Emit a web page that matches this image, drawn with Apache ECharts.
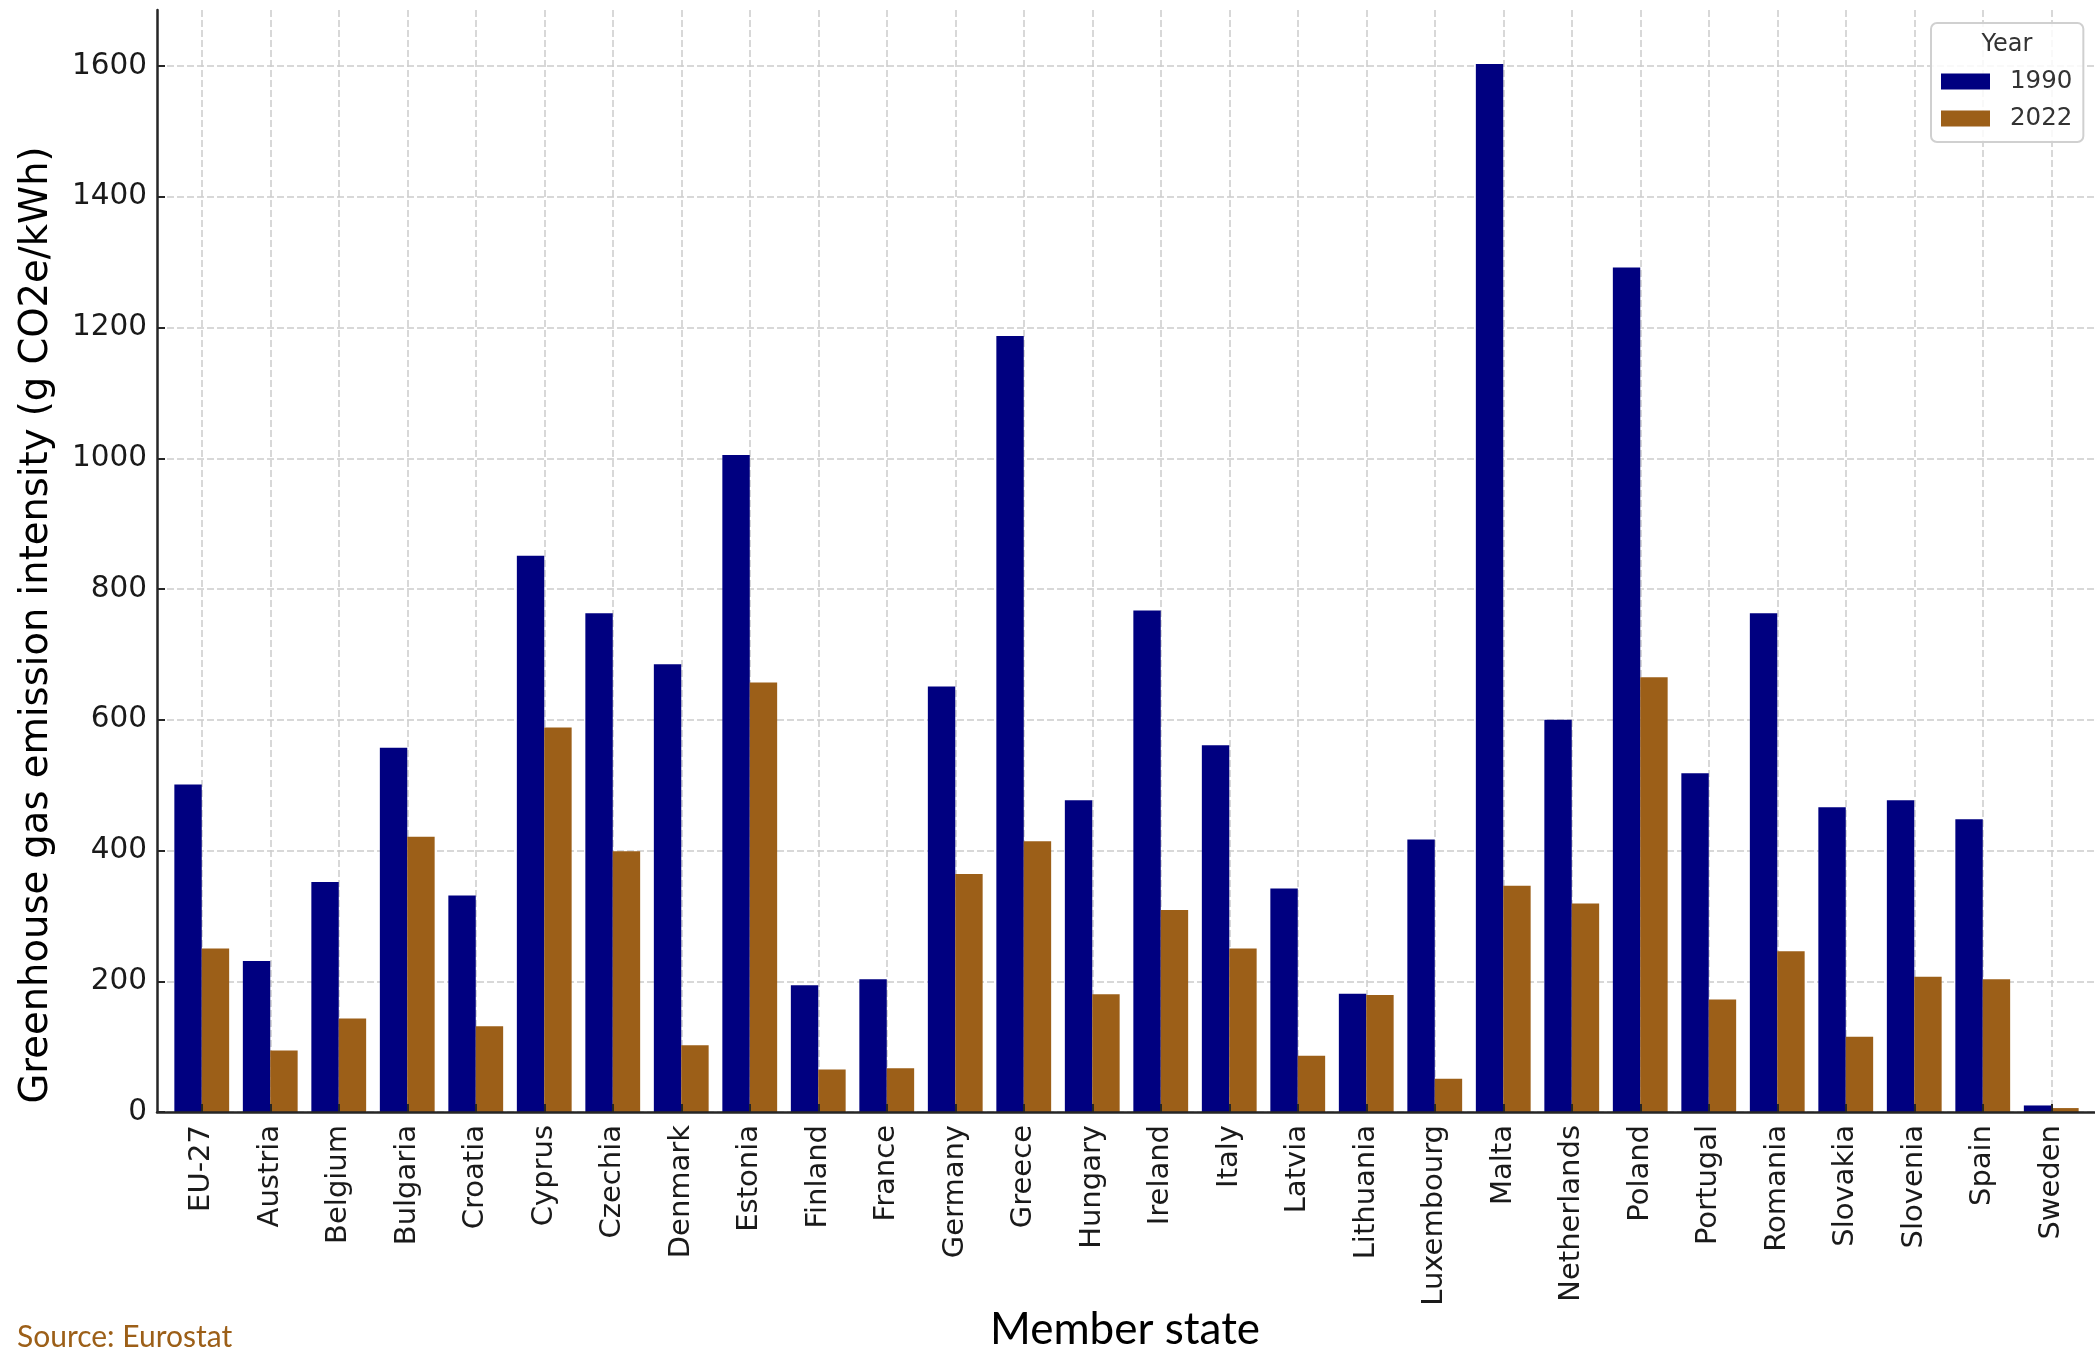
<!DOCTYPE html>
<html><head><meta charset="utf-8">
<script src="https://cdn.jsdelivr.net/npm/echarts@6/dist/echarts.min.js"></script>
<style>html,body{margin:0;padding:0;background:#fff}#c{width:2095px;height:1354px}</style>
</head><body><div id="c"></div>
<script>
const categories = ['EU-27','Austria','Belgium','Bulgaria','Croatia','Cyprus','Czechia','Denmark','Estonia','Finland','France','Germany','Greece','Hungary','Ireland','Italy','Latvia','Lithuania','Luxembourg','Malta','Netherlands','Poland','Portugal','Romania','Slovakia','Slovenia','Spain','Sweden'];
const values1990 = [501,231,352,557,331,851,763,685,1005,194,203,651,1187,477,767,561,342,181,417,1603,600,1292,518,763,466,477,448,10];
const values2022 = [250,94,143,421,131,588,399,102,657,65,67,364,414,180,309,250,86,179,51,346,319,665,172,246,115,207,203,6];
const seriesNames = ['1990','2022'];
const yTickMax = 1600, yTickStep = 200, yAxisTop = 1685.7;

const gridLine = {show:true, lineStyle:{color:'#cccccc', width:1.5, type:[7,3]}};
const chart = echarts.init(document.getElementById('c'), null, {renderer:'canvas'});
chart.setOption({
  animation:false,
  backgroundColor:'#ffffff',
  grid:[
    {left:201.75, right:43.75, top:10, bottom:242},
    {left:157, right:0, top:66, bottom:242}
  ],
  xAxis:[
    {gridIndex:0, type:'category', boundaryGap:false, data:categories, z:5,
     axisLine:{show:false},
     axisTick:{show:true, inside:true, length:8, interval:0, lineStyle:{color:'#262626', width:2}},
     axisLabel:{rotate:90, interval:0, fontSize:29, margin:13, color:'#1a1a1a', fontFamily:'DejaVu Sans'},
     splitLine:{show:false}},
    {gridIndex:0, type:'category', boundaryGap:false, data:categories, position:'top',
     axisLine:{show:false}, axisTick:{show:false}, axisLabel:{show:false},
     splitLine:Object.assign({interval:0}, gridLine)},
    {gridIndex:1, type:'value', min:0, max:1, z:5,
     axisLine:{show:true, lineStyle:{color:'#262626', width:2.5}},
     axisTick:{show:false}, axisLabel:{show:false}, splitLine:{show:false}}
  ],
  yAxis:[
    {gridIndex:0, type:'value', min:0, max:yAxisTop, offset:44.75,
     axisLine:{show:true, lineStyle:{color:'#262626', width:2.5}},
     axisTick:{show:false}, axisLabel:{show:false}, splitLine:{show:false}},
    {gridIndex:1, type:'value', min:0, max:yTickMax, interval:yTickStep,
     axisLine:{show:false},
     axisTick:{show:true, inside:true, length:8, lineStyle:{color:'#262626', width:2}},
     axisLabel:{fontSize:29.5, margin:10, color:'#1a1a1a', fontFamily:'DejaVu Sans', formatter:function(v){return String(v);}},
     splitLine:gridLine}
  ],
  legend:{
    orient:'vertical', left:1931, top:23, width:152,
    padding:[46,11,11,10], itemWidth:49, itemHeight:16, itemGap:12,
    icon:'rect', backgroundColor:'rgba(255,255,255,0.85)',
    borderColor:'#d0d0d0', borderWidth:2, borderRadius:6,
    textStyle:{fontSize:24.5, color:'#333333', fontFamily:'DejaVu Sans', padding:[0,0,0,15]},
    data:seriesNames
  },
  graphic:[
    {type:'text', x:2007, y:45, z:100,
     style:{text:'Year', font:'24px "DejaVu Sans"', fill:'#333333', textAlign:'center', textVerticalAlign:'middle'}},
    {type:'text', x:37, y:625, rotation:Math.PI/2,
     style:{text:'Greenhouse gas emission intensity (g CO2e/kWh)', font:'38.5px "DejaVu Sans"', fill:'#000000', textAlign:'center', textVerticalAlign:'middle'}},
    {type:'text', x:1125, y:1330,
     style:{text:'Member state', font:'44px Lato', fill:'#000000', textAlign:'center', textVerticalAlign:'middle'}},
    {type:'text', x:17, y:1337,
     style:{text:'Source: Eurostat', font:'30px Lato', fill:'#9c5f18', textAlign:'left', textVerticalAlign:'middle'}}
  ],
  series:[
    {name:seriesNames[0], type:'bar', xAxisIndex:0, yAxisIndex:0, data:values1990,
     barGap:'0%', barCategoryGap:'20%', itemStyle:{color:'#000080'}},
    {name:seriesNames[1], type:'bar', xAxisIndex:0, yAxisIndex:0, data:values2022,
     barGap:'0%', barCategoryGap:'20%', itemStyle:{color:'#9c5f18'}}
  ]
});
</script></body></html>
